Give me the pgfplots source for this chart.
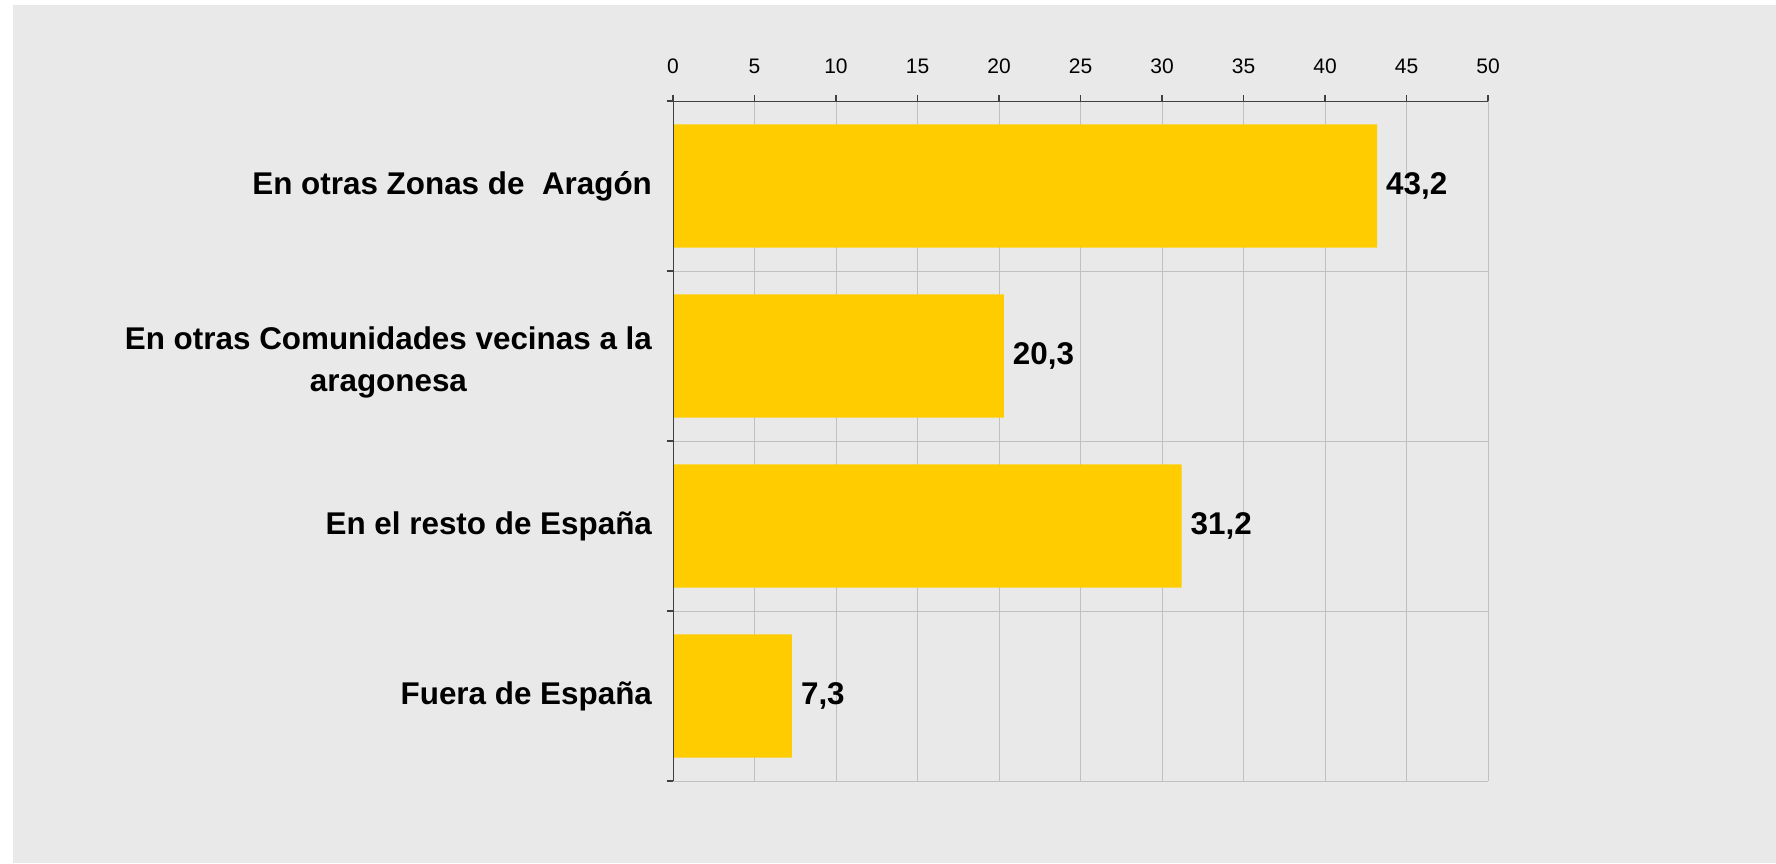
\documentclass[border=0pt]{standalone}
\usepackage{fontspec}
\setmainfont{Liberation Sans}
\usepackage{pgfplots}
\pgfplotsset{compat=1.18}
\definecolor{panel}{HTML}{E9E9E9}
\definecolor{baryellow}{HTML}{FFCC00}
\definecolor{gridgray}{HTML}{C0C0C0}
\definecolor{axisgray}{HTML}{404040}

\begin{document}
\begin{tikzpicture}
% page (1 px of the reference = 0.5pt)
\fill[white] (0pt,0pt) rectangle (888pt,-431.5pt);
\fill[panel] (6.5pt,-2.5pt) rectangle (888pt,-431.5pt);
\begin{axis}[
  at={(336.5pt,-50.5pt)}, anchor=north west,
  scale only axis, width=407.5pt, height=340pt,
  xbar, bar width=0.724,
  xmin=0, xmax=50, ymin=-0.5, ymax=3.5,
  xtick={0,5,...,50},
  xtick pos=upper, xticklabel pos=upper,
  ytick={0,1,2,3}, ytick pos=left,
  minor ytick={-0.5,0.5,1.5,2.5,3.5},
  yticklabels={Fuera de España, En el resto de España,
    {\raisebox{-3pt}[\height][\depth]{\begin{tabular}{@{}c@{}}En otras Comunidades vecinas a la\\aragonesa\end{tabular}}},
    En otras Zonas de\ \ Aragón},
  tick align=outside,
  major tick length=3pt, minor tick length=3pt,
  every major y tick/.append style={draw=none},
  every tick/.append style={axisgray, line width=0.6pt},
  axis line style={draw=none},
  xmajorgrids, yminorgrids,
  grid style={gridgray, line width=0.5pt},
  minor grid style={gridgray, line width=0.5pt},
  xticklabel style={font=\fontsize{10.5}{12}\selectfont, yshift=7.3pt},
  yticklabel style={font=\bfseries\fontsize{15.7}{21.3}\selectfont, xshift=-4pt},
  /pgf/number format/assume math mode=true,
  point meta=x,
  nodes near coords={\pgfmathprintnumber[fixed,fixed zerofill,precision=1,use comma]{\pgfplotspointmeta}},
  nodes near coords style={font=\bfseries\fontsize{15.7}{19}\selectfont, anchor=west, xshift=1pt},
]
\addplot[fill=baryellow, draw=none] coordinates {
  (7.3,0) (31.2,1) (20.3,2) (43.2,3)};
\draw[axisgray, line width=0.7pt] (axis cs:0,3.5) -- (axis cs:50,3.5);
\draw[axisgray, line width=0.7pt] (axis cs:0,3.5) -- (axis cs:0,-0.5);
\end{axis}
\end{tikzpicture}
\end{document}
